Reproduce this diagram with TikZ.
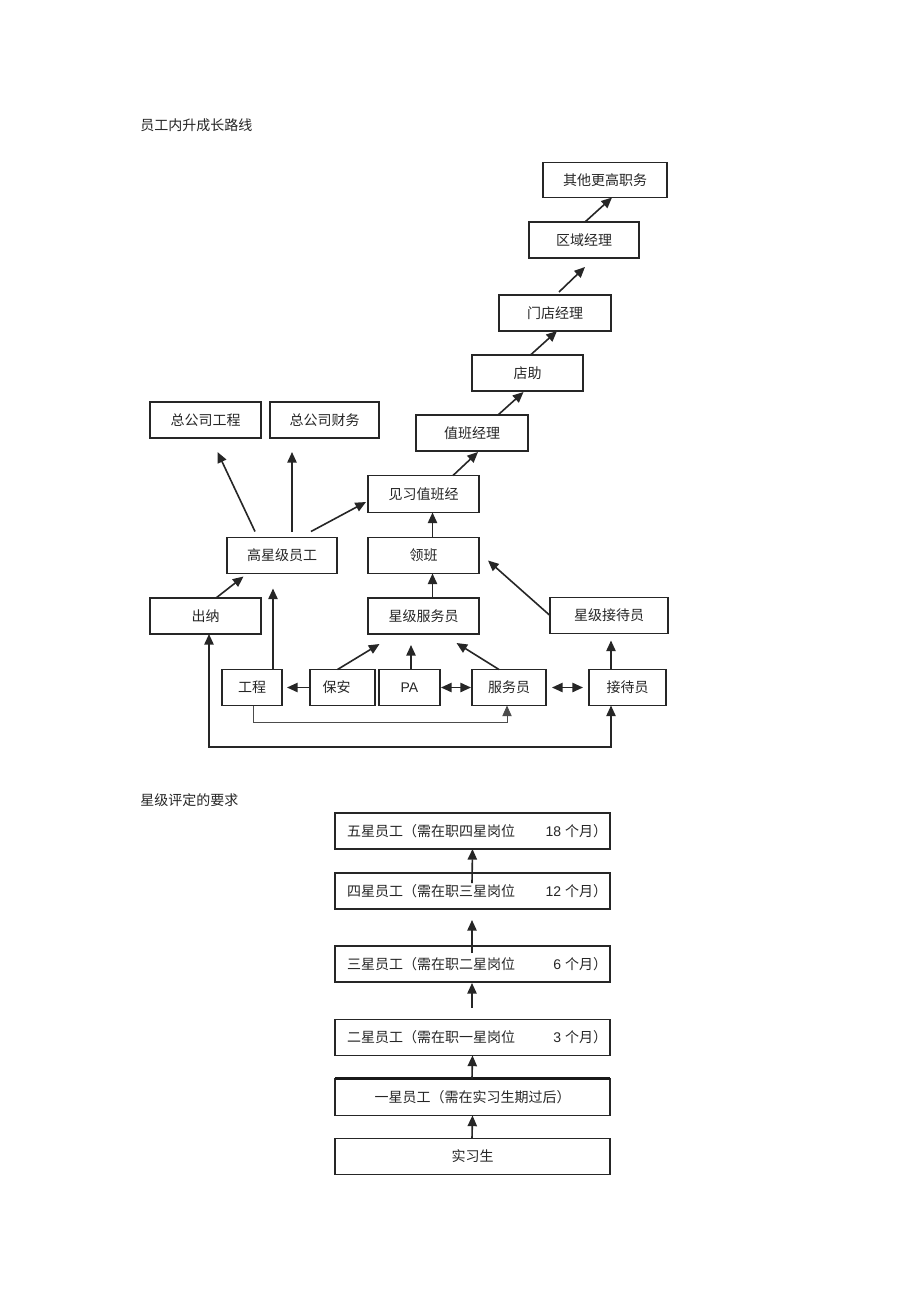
\documentclass[tikz,border=0pt]{standalone}
\usepackage{fontspec}
\setmainfont{Noto Sans CJK SC}
\newfontfamily\arial{Liberation Sans}
\usetikzlibrary{arrows.meta,calc}
\begin{document}
\begin{tikzpicture}[x=0.75pt,y=-0.75pt,
  box/.style={draw=black!85,line width=0.9pt,inner sep=0pt,outer sep=0pt,
    font=\fontsize{10.5pt}{12pt}\selectfont,text=black!85},
  sz/.style 2 args={minimum width=#1*0.75pt,minimum height=#2*0.75pt},
  tip/.tip={Triangle[length=8pt,width=7pt]},
  arr/.style={draw=black!85,line width=1.2pt,-tip},
  darr/.style={draw=black!85,line width=1.2pt,tip-tip},
  thin/.style={draw=black!70,line width=0.6pt,-tip},
  head/.style={anchor=west,inner sep=0pt,font=\fontsize{10.5pt}{12pt}\selectfont,text=black!85}]
\useasboundingbox[fill=white] (0,0) rectangle (920,1303);

% headings
\node[head] (h1) at (140,125) {员工内升成长路线};
\node[head] (h2) at (140,800) {星级评定的要求};

% upper chart boxes
\node[box,sz={124}{35}] (qt) at (605,180) {其他更高职务};
\node[box,sz={110}{36}] (qy) at (584,240) {区域经理};
\node[box,sz={112}{36}] (md) at (555,313) {门店经理};
\node[box,sz={111}{36},line width=1.2pt] (dz) at (527.5,373) {店助};
\node[box,sz={112}{36},line width=1.2pt] (zb) at (472,433) {值班经理};
\node[box,sz={111}{37}] (jx) at (423.5,494) {见习值班经};
\node[box,sz={111}{36}] (lb) at (423.5,555.5) {领班};
\node[box,sz={110}{36}] (gx) at (282,555.5) {高星级员工};
\node[box,sz={111}{36}] (zg) at (205.5,420) {总公司工程};
\node[box,sz={109}{36}] (zc) at (324.5,420) {总公司财务};
\node[box,sz={111}{36}] (cn) at (205.5,616) {出纳};
\node[box,sz={111}{36}] (xf) at (423.5,616) {星级服务员};
\node[box,sz={118}{36}] (xj) at (609,615.5) {星级接待员};
\node[box,sz={60}{36}] (gc) at (252,687.5) {工程};
\node[box,sz={65}{36}] (ba) at (342.5,687.5) {\hspace{-9pt}保安};
\node[box,sz={61}{36}] (pa) at (409.5,687.5) {\arial PA};
\node[box,sz={74}{36}] (fw) at (509,687.5) {服务员};
\node[box,sz={77}{36}] (jd) at (627.5,687.5) {接待员};

% upper chart connectors
\draw[arr] ($(qy.north)+(1,0)$) -- ($(qt.south)+(7,0)$);
\draw[arr] ($(md.north)+(4,-3)$) -- ($(qy.south)+(1,9)$);
\draw[arr] ($(dz.north)+(3,0)$) -- ($(md.south)+(2,0)$);
\draw[arr] ($(zb.north)+(26,0)$) -- ($(dz.south)+(-4,1)$);
\draw[arr] ($(jx.north)+(29.5,0)$) -- ($(zb.south)+(6,1)$);
\draw[arr] ($(lb.north)+(9,0)$) -- ($(jx.south)+(9,0)$);
\draw[arr] ($(xf.north)+(9,0)$) -- ($(lb.south)+(9,0)$);
\draw[arr] (xj.west) -- ($(lb.east)+(9,5)$);
\draw[arr] ($(gx.north)+(-27,-6)$) -- ($(zg.south)+(12,14)$);
\draw[arr] ($(gx.north)+(10,-6)$) -- ($(zc.south)+(-32.5,14)$);
\draw[arr] ($(gx.north)+(29,-6)$) -- ($(jx.west)+(-2,8)$);
\draw[arr] ($(cn.north)+(10.5,0)$) -- ($(gx.south)+(-38.5,3)$);
\draw[arr] ($(gc.north)+(21,0)$) -- ($(gx.south)+(-9,15)$);
\draw[arr] ($(ba.north)+(-5,0)$) -- ($(xf.south)+(-44,10)$);
\draw[arr] ($(pa.north)+(1.5,0)$) -- ($(xf.south)+(-12.5,11)$);
\draw[arr] ($(fw.north)+(-10,0)$) -- ($(xf.south)+(33,9)$);
\draw[arr] (ba.west) -- ($(gc.east)+(5,0)$);
\draw[darr] ($(pa.east)+(1,0)$) -- ($(fw.west)+(-1,0)$);
\draw[darr] ($(fw.east)+(6,0)$) -- ($(jd.west)+(-6,0)$);
\draw[arr] ($(jd.north)+(-16.5,0)$) -- ($(xj.south)+(2,7)$);
\coordinate (g1) at (253,722);
\coordinate (g2) at (507,722);
\draw[thin] ($(gc.south)+(1,0)$) -- (g1) -- (g2) -- ($(fw.south)+(-2,0)$);
\coordinate (l1) at (209,747);
\coordinate (l2) at (611,747);
\draw[darr] ($(cn.south)+(3.5,0)$) -- (l1) -- (l2) -- ($(jd.south)+(-16.5,0)$);

% lower chart
\node[box,sz={275}{36}] (s5) at (472.5,831) {\hspace{6.75pt}\makebox[195pt]{五星员工（需在职四星岗位\hfill{\arial 18 }个月）}};
\node[box,sz={275}{36}] (s4) at (472.5,891) {\hspace{6.75pt}\makebox[195pt]{四星员工（需在职三星岗位\hfill{\arial 12 }个月）}};
\node[box,sz={275}{36}] (s3) at (472.5,964) {\hspace{6.75pt}\makebox[195pt]{三星员工（需在职二星岗位\hfill{\arial 6 }个月）}};
\node[box,sz={275}{36}] (s2) at (472.5,1037.5) {\hspace{6.75pt}\makebox[195pt]{二星员工（需在职一星岗位\hfill{\arial 3 }个月）}};
\node[box,sz={275}{37}] (s1) at (472.5,1097) {一星员工（需在实习生期过后）\hspace{21.75pt}};
\draw[line width=1.8pt,black!90] (s1.north west) -- (s1.north east);
\node[box,sz={275}{36}] (sx) at (472.5,1156.5) {实习生};

\draw[arr] ($(s4.north)+(-0.5,10)$) -- (s5.south);
\draw[arr] ($(s3.north)+(-0.5,7)$) -- ($(s4.south)+(-0.5,11)$);
\draw[arr] ($(s2.north)+(-0.5,-12)$) -- ($(s3.south)+(-0.5,1)$);
\draw[arr] ($(s1.north)+(-0.5,0)$) -- (s2.south);
\draw[arr] ($(sx.north)+(-0.5,0)$) -- (s1.south);
\end{tikzpicture}
\end{document}
